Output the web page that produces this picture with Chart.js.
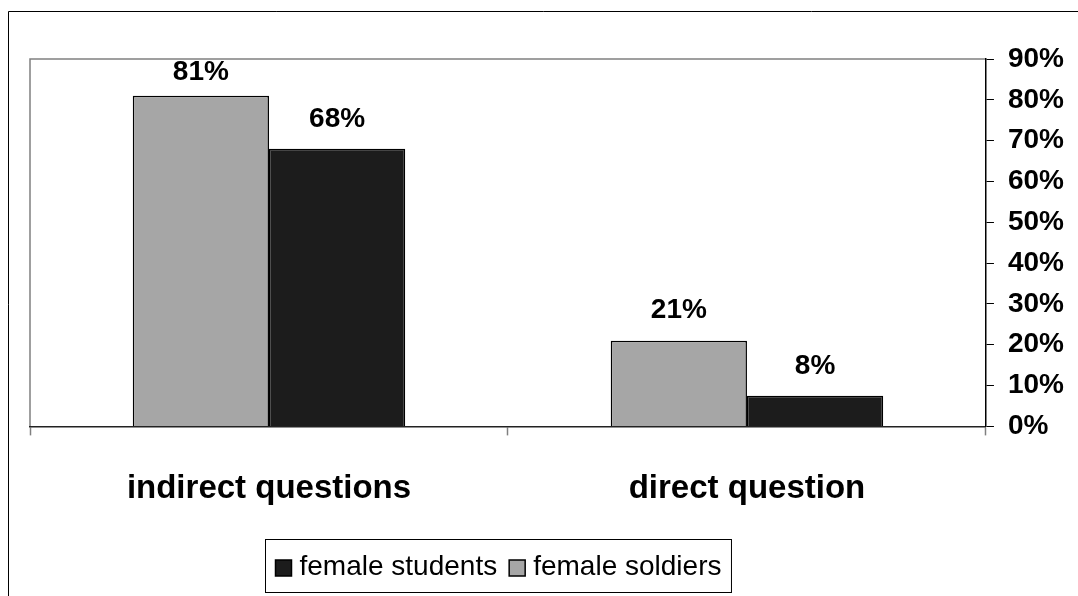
<!DOCTYPE html>
<html>
<head>
<meta charset="utf-8">
<script src="https://cdn.jsdelivr.net/npm/chart.js@4"></script>
<style>
html, body { margin: 0; padding: 0; background: #fff; }
</style>
</head>
<body>
<canvas id="chart" width="1078" height="596"></canvas>
<script>
const categories = ['indirect questions', 'direct question'];
const femaleSoldiers = [81, 21];
const femaleStudents = [68, 7.5];
const yTickValues = [0, 10, 20, 30, 40, 50, 60, 70, 80, 90];

const FONT = '"Liberation Sans", Arial, sans-serif';

// outer frame + grey plot border
const framePlugin = {
    id: 'frame',
    beforeDraw(chart) {
        const ctx = chart.ctx;
        const a = chart.chartArea;
        ctx.save();
        ctx.fillStyle = '#fff';
        ctx.fillRect(0, 0, chart.width, chart.height);
        ctx.strokeStyle = '#000';
        ctx.lineWidth = 1;
        ctx.beginPath();
        ctx.moveTo(8.5, chart.height + 5);
        ctx.lineTo(8.5, 11.5);
        ctx.lineTo(chart.width + 5, 11.5);
        ctx.stroke();
        ctx.strokeStyle = '#808080';
        ctx.lineWidth = 1.5;
        ctx.beginPath();
        ctx.moveTo(a.left, a.bottom);
        ctx.lineTo(a.left, a.top);
        ctx.lineTo(a.right, a.top);
        ctx.stroke();
        ctx.restore();
    }
};

// value labels above bars
const barLabels = {
    id: 'barLabels',
    afterDatasetsDraw(chart) {
        const ctx = chart.ctx;
        ctx.save();
        ctx.font = 'bold 28px ' + FONT;
        ctx.fillStyle = '#000';
        ctx.textAlign = 'center';
        ctx.textBaseline = 'middle';
        chart.data.datasets.forEach((ds, i) => {
            chart.getDatasetMeta(i).data.forEach((bar, j) => {
                let y = Math.max(bar.y - 30, chart.chartArea.top + 13);
                ctx.fillText(Math.round(ds.data[j]) + '%', bar.x, y);
            });
        });
        ctx.restore();
    }
};

// boxed legend at the bottom, students first
const boxLegend = {
    id: 'boxLegend',
    afterDraw(chart) {
        const ctx = chart.ctx;
        const items = chart.data.datasets.slice().reverse();
        ctx.save();
        ctx.font = '28px ' + FONT;
        const sq = 16, gapSq = 8, gapItem = 12, pad = 10;
        let total = 0;
        items.forEach((ds, i) => {
            total += sq + gapSq + ctx.measureText(ds.label).width;
            if (i < items.length - 1) total += gapItem;
        });
        const boxW = total + pad * 2;
        const boxX = Math.round(498 - boxW / 2) + 0.5;
        const boxY = 539.5, boxH = 53;
        ctx.strokeStyle = '#000';
        ctx.lineWidth = 1;
        ctx.strokeRect(boxX, boxY, boxW, boxH);
        let x = boxX + pad;
        const cy = boxY + boxH / 2;
        ctx.textBaseline = 'middle';
        items.forEach(ds => {
            ctx.fillStyle = ds.backgroundColor;
            ctx.fillRect(x, cy - sq / 2 + 2, sq, sq);
            ctx.lineWidth = 1.5;
            ctx.strokeRect(x, cy - sq / 2 + 2, sq, sq);
            x += sq + gapSq;
            ctx.fillStyle = '#000';
            ctx.fillText(ds.label, x, cy + 1);
            x += ctx.measureText(ds.label).width + gapItem;
        });
        ctx.restore();
    }
};

const ctx = document.getElementById('chart').getContext('2d');
const chart = new Chart(ctx, {
    type: 'bar',
    data: {
        labels: categories,
        datasets: [{
            label: 'female soldiers',
            data: femaleSoldiers,
            backgroundColor: '#a6a6a6',
            borderColor: '#000',
            borderWidth: 1.5,
            barPercentage: 1,
            categoryPercentage: 0.57
        }, {
            label: 'female students',
            data: femaleStudents,
            backgroundColor: '#1c1c1c',
            borderColor: '#000',
            borderWidth: 1.5,
            barPercentage: 1,
            categoryPercentage: 0.57
        }]
    },
    options: {
        responsive: false,
        animation: false,
        layout: {
            padding: { left: 30, top: 59, right: 0, bottom: 53 }
        },
        plugins: {
            legend: { display: false },
            tooltip: { enabled: false }
        },
        scales: {
            x: {
                grid: {
                    drawOnChartArea: false,
                    tickLength: 9,
                    tickColor: '#808080',
                    tickWidth: 1.5
                },
                border: { display: true, color: '#222', width: 1.5 },
                ticks: {
                    color: '#000',
                    padding: 34,
                    font: { family: FONT, size: 33, weight: 'bold' }
                }
            },
            y: {
                position: 'right',
                min: 0,
                max: 90,
                afterBuildTicks: scale => {
                    scale.ticks = yTickValues.map(v => ({ value: v }));
                },
                grid: {
                    drawOnChartArea: false,
                    tickLength: 8,
                    tickColor: '#000',
                    tickWidth: 1
                },
                border: { display: true, color: '#000', width: 1.5 },
                ticks: {
                    color: '#000',
                    padding: 14,
                    font: { family: FONT, size: 28, weight: 'bold' },
                    callback: v => v + '%'
                }
            }
        }
    },
    plugins: [framePlugin, barLabels, boxLegend]
});
</script>
</body>
</html>
